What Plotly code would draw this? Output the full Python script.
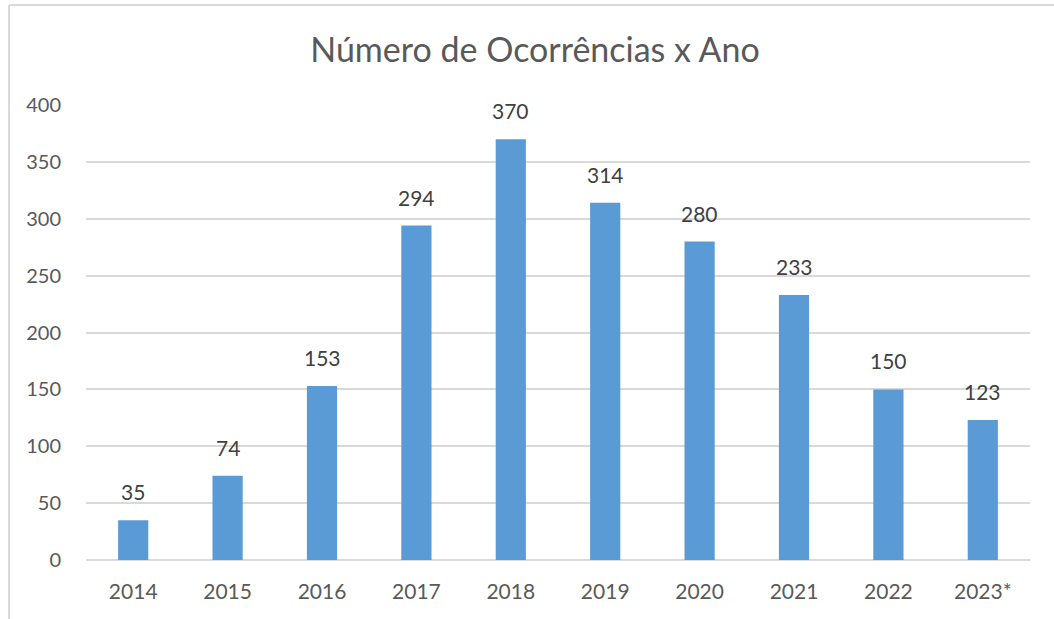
import plotly.graph_objects as go

anos = ["2014", "2015", "2016", "2017", "2018", "2019", "2020", "2021", "2022", "2023*"]
ocorrencias = [35, 74, 153, 294, 370, 314, 280, 233, 150, 123]
titulo = "Número de Ocorrências x Ano"

W, H = 1054, 619
L, R, T, B = 86, 24, 105, 59
pw, ph = W - L - R, H - T - B

fig = go.Figure(go.Bar(x=anos, y=ocorrencias, marker_color="#5B9BD5", marker_line_width=0,
                       text=[str(v) for v in ocorrencias], textposition="none"))

for i, v in enumerate(ocorrencias):
    fig.add_annotation(x=i, y=v, text=str(v), showarrow=False, yanchor="bottom", yshift=14,
                       font=dict(family="Lato, Open Sans, sans-serif", size=21, color="#404040"))

bx = (9 - L) / pw
by = (H - B - 5) / ph
fig.add_shape(type="line", xref="paper", yref="paper", x0=bx, x1=bx, y0=by, y1=-1,
              line=dict(color="#d9d9d9", width=2))
fig.add_shape(type="line", xref="paper", yref="paper", x0=bx, x1=1.2, y0=by, y1=by,
              line=dict(color="#d9d9d9", width=2))

fig.update_layout(
    width=W, height=H,
    margin=dict(l=L, r=R, t=T, b=B),
    paper_bgcolor="white", plot_bgcolor="white",
    bargap=0.68,
    showlegend=False,
    title=dict(text=titulo, x=535 / W, xanchor="center", y=1 - 50 / H, yanchor="middle",
               font=dict(family="Lato, Open Sans, sans-serif", size=34, color="#595959")),
    font=dict(family="Lato, Open Sans, sans-serif", size=20, color="#595959"),
    xaxis=dict(type="category", range=[-0.5, len(anos) - 0.5], showline=False, ticks="",
               ticklabelstandoff=17, tickfont=dict(size=21, color="#595959")),
    yaxis=dict(range=[0, 400], dtick=50, showgrid=True, gridcolor="#d9d9d9", gridwidth=1.5,
               zeroline=True, zerolinecolor="#d9d9d9", zerolinewidth=1.5,
               ticks="", ticklabelstandoff=24, tickfont=dict(size=20, color="#595959")),
)

fig.write_html("out.html", config={"displayModeBar": False},
               post_script="document.body.style.margin='0';")
